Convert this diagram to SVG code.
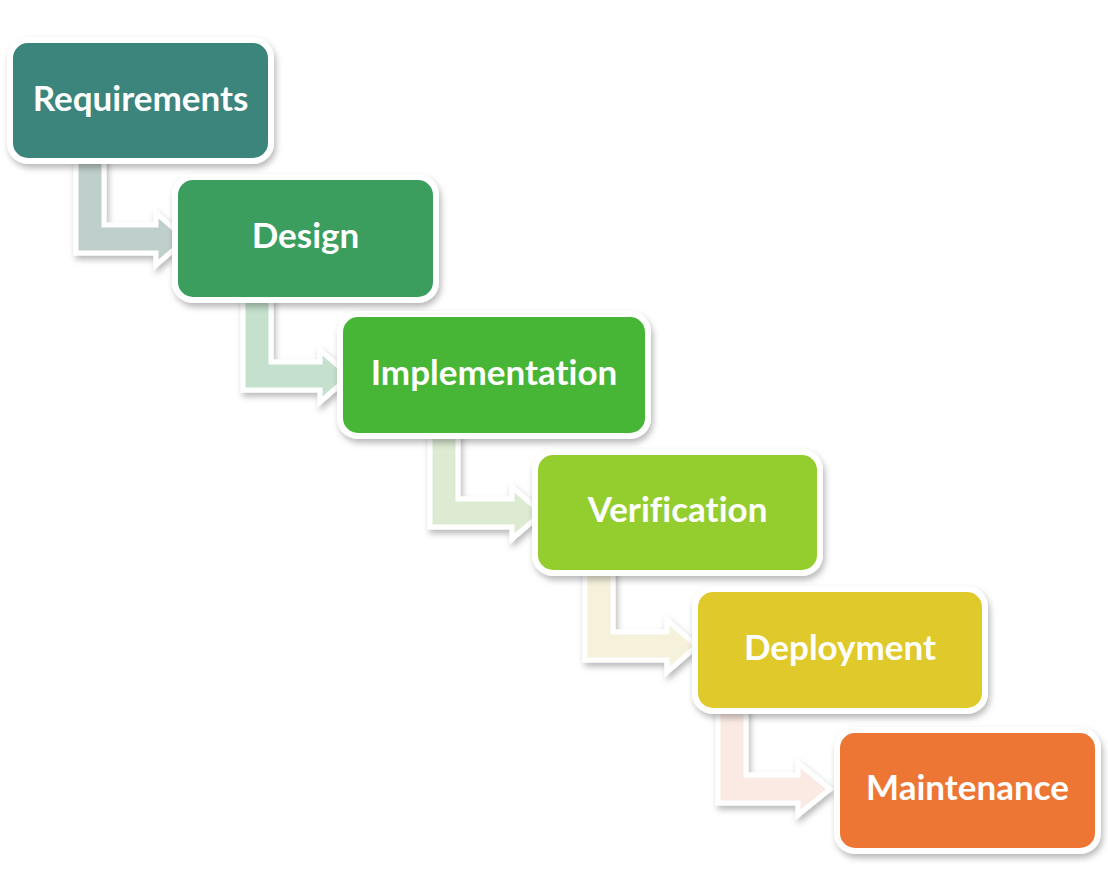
<svg xmlns="http://www.w3.org/2000/svg" width="1108" height="888" viewBox="0 0 1108 888">
<defs>
<filter id="sh" x="-20%" y="-20%" width="140%" height="150%">
<feDropShadow dx="2" dy="4" stdDeviation="3" flood-color="#000" flood-opacity="0.28"/>
</filter>
<style>
.node rect{stroke:#fff;stroke-width:6;filter:url(#sh)}
.node text{fill:#fff;font-family:Lato,"Open Sans","Liberation Sans",sans-serif;font-weight:700;font-size:35px;text-anchor:middle;font-variant-ligatures:none;font-feature-settings:"liga" 0}
.arrow{stroke:#fff;stroke-width:5;stroke-linejoin:miter;filter:url(#sh)}
</style>
</defs>
<rect width="1108" height="888" fill="#fff"/>
<g id="connectors">
<polygon class="arrow" fill="#BFCFCC" points="76,150 104,150 104,225 156,225 156,213 186,239 156,265 156,253 76,253"/>
<polygon class="arrow" fill="#C5E0CC" points="243,290 271,290 271,362 320,362 320,350 350,376 320,402 320,390 243,390"/>
<polygon class="arrow" fill="#DDEBD2" points="430,425 458,425 458,499 512,499 512,487 542,513 512,539 512,527 430,527"/>
<polygon class="arrow" fill="#F5F1DB" points="585,562 613,562 613,632 667,632 667,620 697,646 667,672 667,660 585,660"/>
<polygon class="arrow" fill="#FBEAE4" points="718,700 746,700 746,775 798,775 798,763 830,789 798,815 798,803 718,803"/>
</g>
<g id="requirements" class="node">
<rect x="10" y="40" width="261" height="121" rx="18" fill="#3B857B"/>
<text x="140.5" y="111">Requirements</text>
</g>
<g id="design" class="node">
<rect x="175" y="177" width="261" height="123" rx="18" fill="#3A9E5F"/>
<text x="305.5" y="248">Design</text>
</g>
<g id="implementation" class="node">
<rect x="340" y="314" width="308" height="122" rx="18" fill="#46B535"/>
<text x="494" y="385">Implementation</text>
</g>
<g id="verification" class="node">
<rect x="535" y="452" width="285" height="121" rx="18" fill="#94CE2E"/>
<text x="677.5" y="522">Verification</text>
</g>
<g id="deployment" class="node">
<rect x="695" y="589" width="290" height="122" rx="18" fill="#E0C92C"/>
<text x="840" y="660">Deployment</text>
</g>
<g id="maintenance" class="node">
<rect x="837" y="730" width="261" height="121" rx="18" fill="#ED7634"/>
<text x="967.5" y="800">Maintenance</text>
</g>
</svg>
